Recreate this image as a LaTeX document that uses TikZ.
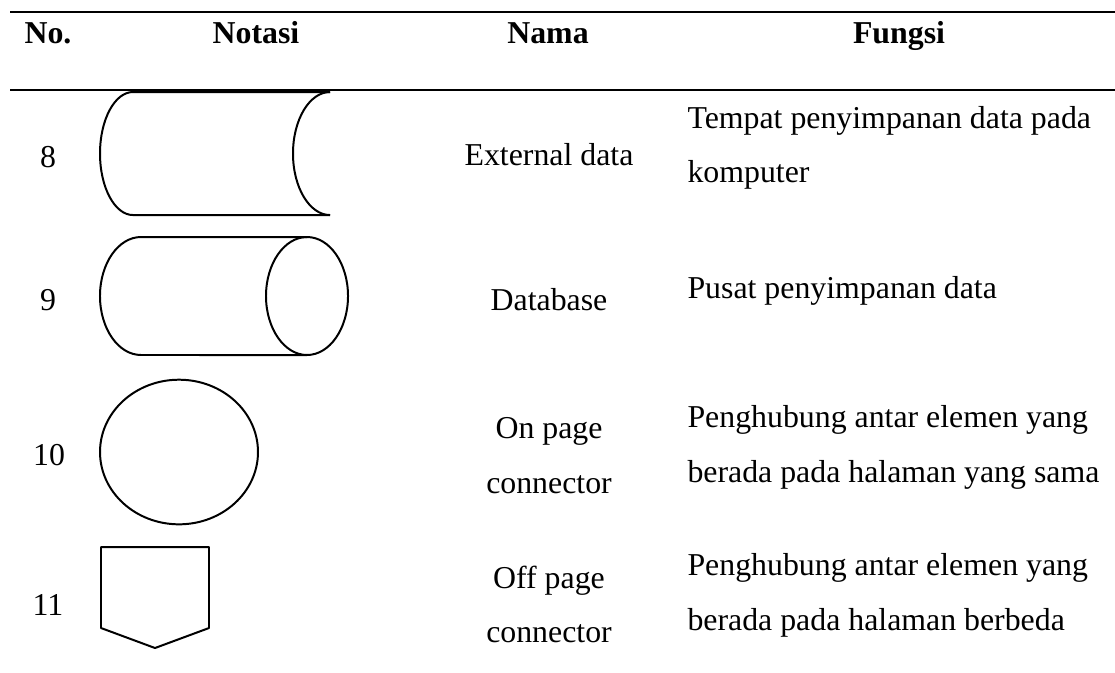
\documentclass[tikz,border=0pt]{standalone}
\usepackage{fontspec}
\setmainfont{Liberation Serif}
\usepackage{tikz}

\tikzset{
  teks/.style={anchor=base,inner sep=0pt,font=\fontsize{12pt}{14pt}\selectfont},
  kiri/.style={teks,anchor=base west},
  kepala/.style={teks,font=\fontsize{12pt}{14pt}\selectfont\bfseries},
  garis/.style={line width=0.75pt},
  simbol/.style={line width=0.75pt,line join=round}
}

\begin{document}
\begin{tikzpicture}[x=0.377pt,y=-0.377pt]
            \useasboundingbox (0,0) rectangle (1115,672);

            % rules
            \coordinate (r1a) at (10,12);
            \coordinate (r1b) at (1115,12);
            \coordinate (r2a) at (10,90);
            \coordinate (r2b) at (1115,90);
            \draw[garis] (r1a) -- (r1b) (r2a) -- (r2b);

            % header
            \node (hno) at (48,43) [kepala] {No.};
            \node (hnotasi) at (256,43) [kepala] {Notasi};
            \node (hnama) at (548,43) [kepala] {Nama};
            \node (hfungsi) at (899,43) [kepala] {Fungsi};

            % row 8
            \node (n8) at (48,167) [teks] {8};
            \draw[simbol] (330,92) -- (133,92) arc[start angle=90,end angle=270,x radius=12.44pt,y radius=23.19pt] -- (330,215);
            \draw[simbol] (330,92) arc[start angle=90,end angle=270,x radius=13.95pt,y radius=23.19pt];
            \node (nama8) at (549,165) [teks] {External data};
            \node (fa8) at (687,128) [kiri] {Tempat penyimpanan data pada};
            \node (fb8) at (687,182) [kiri] {komputer};

            % row 9
            \node (n9) at (48,310) [teks] {9};
            \draw[simbol] (307,237) -- (141,237) arc[start angle=90,end angle=270,x radius=15.46pt,y radius=22.24pt] -- (307,355);
            \draw[simbol] (307,296) ellipse [x radius=15.46pt,y radius=22.24pt];
            \node (nama9) at (549,310) [teks] {Database};
            \node (fa9) at (687,298) [kiri] {Pusat penyimpanan data};

            % row 10
            \node (n10) at (49,465) [teks] {10};
            \draw[simbol] (179,452) ellipse [x radius=29.78pt,y radius=27.26pt];
            \node (namaa10) at (549,438) [teks] {On page};
            \node (namab10) at (549,493) [teks] {connector};
            \node (fa10) at (687,427) [kiri] {Penghubung antar elemen yang};
            \node (fb10) at (687,482) [kiri] {berada pada halaman yang sama};

            % row 11
            \node (n11) at (48,615) [teks] {11};
            \draw[simbol] (101,547) -- (209,547) -- (209,628) -- (155,648) -- (101,628) -- cycle;
            \node (namaa11) at (549,588) [teks] {Off page};
            \node (namab11) at (549,642) [teks] {connector};
            \node (fa11) at (687,575) [kiri] {Penghubung antar elemen yang};
            \node (fb11) at (687,630) [kiri] {berada pada halaman berbeda};
        \end{tikzpicture}
\end{document}
